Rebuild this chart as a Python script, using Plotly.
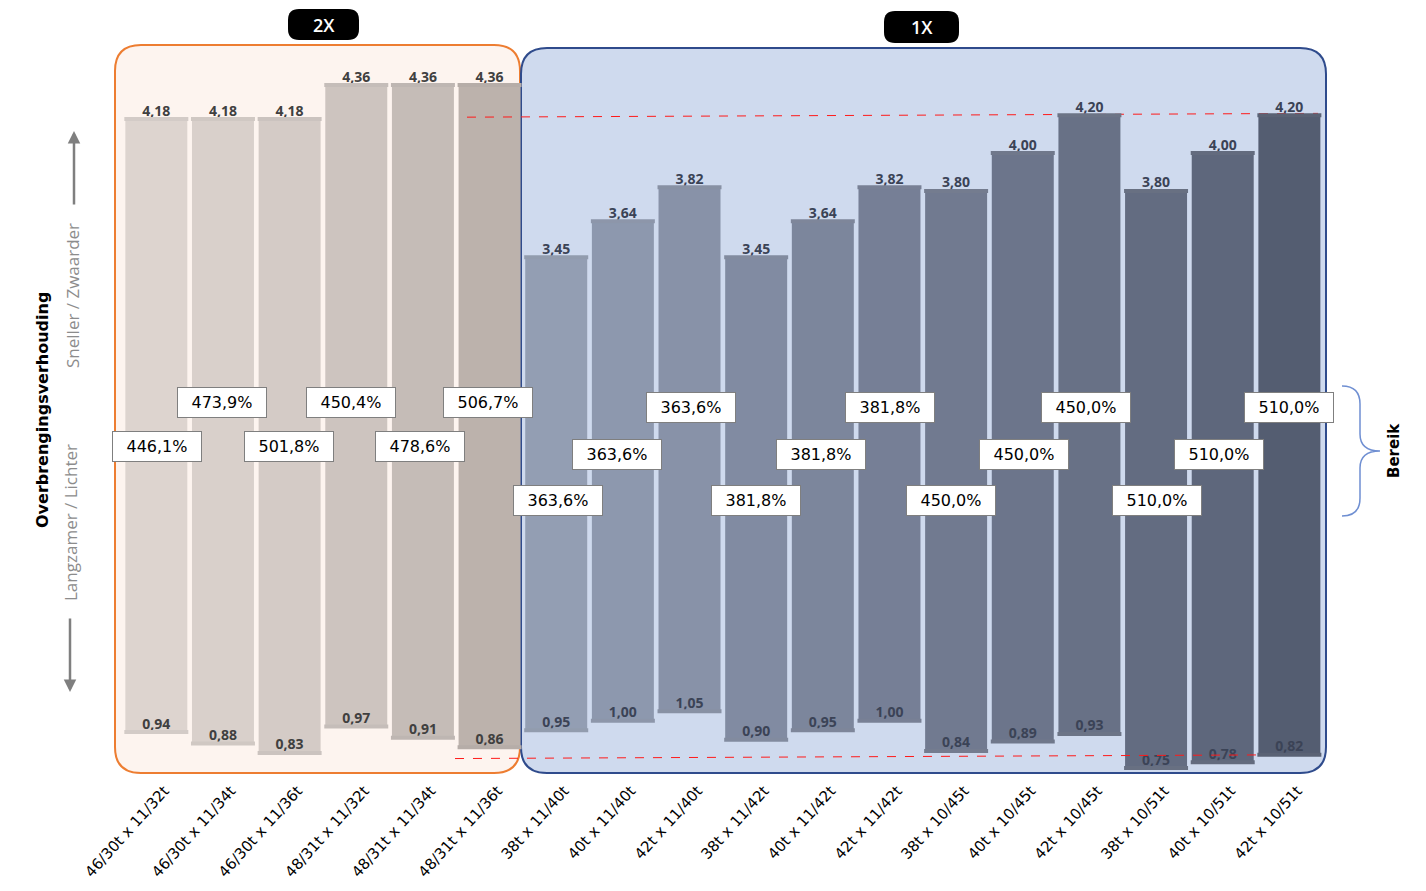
import plotly.graph_objects as go

# ---------------- data ----------------
categories = ["46/30t x 11/32t", "46/30t x 11/34t", "46/30t x 11/36t",
              "48/31t x 11/32t", "48/31t x 11/34t", "48/31t x 11/36t",
              "38t x 11/40t", "40t x 11/40t", "42t x 11/40t",
              "38t x 11/42t", "40t x 11/42t", "42t x 11/42t",
              "38t x 10/45t", "40t x 10/45t", "42t x 10/45t",
              "38t x 10/51t", "40t x 10/51t", "42t x 10/51t"]
high = [4.18, 4.18, 4.18, 4.36, 4.36, 4.36,
        3.45, 3.64, 3.82, 3.45, 3.64, 3.82,
        3.80, 4.00, 4.20, 3.80, 4.00, 4.20]
low = [0.94, 0.88, 0.83, 0.97, 0.91, 0.86,
       0.95, 1.00, 1.05, 0.90, 0.95, 1.00,
       0.84, 0.89, 0.93, 0.75, 0.78, 0.82]
range_pct = ["446,1%", "473,9%", "501,8%", "450,4%", "478,6%", "506,7%",
             "363,6%", "363,6%", "363,6%", "381,8%", "381,8%", "381,8%",
             "450,0%", "450,0%", "450,0%", "510,0%", "510,0%", "510,0%"]
group_2x = 6  # first six combinations are 2X
top_ref = [4.19, 4.21]     # red dashed reference (max of 1X)
bottom_ref = [0.80, 0.82]  # red dashed reference (min of 1X)

# ---------------- styles ----------------
bar_colors = ["#ddd4cf", "#d9d0cb", "#d4cbc6", "#cdc4bf", "#c5bcb7", "#bcb2ac",
              "#939eb3", "#8d98ae", "#8892a8", "#818ba2", "#7c869c", "#767f96",
              "#717a90", "#6c758b", "#687186", "#636c81", "#5e677c", "#545d71"]


def blend(c, other, t):
    a = [int(c[i:i + 2], 16) for i in (1, 3, 5)]
    b = [int(other[i:i + 2], 16) for i in (1, 3, 5)]
    return "#" + "".join(f"{round(a[k] * (1 - t) + b[k] * t):02x}" for k in range(3))


# page geometry (browser body has an 8px margin)
OFF = 8
W, H = 1426 - OFF, 891 - OFF
PL, PR, PT, PB = 113, 1382, 8, 778          # plot area in page pixels
ML, MR, MT, MB = PL - OFF, (W + OFF) - PR, PT - OFF, (H + OFF) - PB
PW, PH = PR - PL, PB - PT
SX, SY = 66.65, 189.2
XR = [-0.65, -0.65 + PW / SX]
YR = [4.36 - (PB - 85) / SY, 4.36 + (85 - PT) / SY]


def X(px):
    return XR[0] + (px - PL) / SX


def Y(py):
    return YR[1] - (py - PT) / SY


def XP(px):
    return (px - PL) / PW


def YP(py):
    return 1 - (py - PT) / PH


def rrect(px0, px1, py0, py1, r):
    x0, x1, y0, y1 = X(px0), X(px1), Y(py1), Y(py0)
    rx, ry = r / SX, r / SY
    return (f"M{x0+rx},{y1} L{x1-rx},{y1} Q{x1},{y1} {x1},{y1-ry} "
            f"L{x1},{y0+ry} Q{x1},{y0} {x1-rx},{y0} L{x0+rx},{y0} "
            f"Q{x0},{y0} {x0},{y0+ry} L{x0},{y1-ry} Q{x0},{y1} {x0+rx},{y1} Z")


idx = list(range(len(categories)))
fig = go.Figure()

fig.add_trace(go.Bar(
    x=idx, y=[h - l for h, l in zip(high, low)], base=low, width=0.93,
    marker=dict(color=bar_colors, line=dict(width=0)), hoverinfo="skip"))

lab_col = ["#404040" if i < group_2x else "#3b4356" for i in idx]
fig.add_trace(go.Scatter(
    x=idx, y=high, mode="text", text=[f"{v:.2f}".replace(".", ",") for v in high],
    textposition="top center",
    textfont=dict(family="Open Sans", size=14, color=lab_col, weight=700),
    hoverinfo="skip"))
fig.add_trace(go.Scatter(
    x=idx, y=low, mode="text", text=[f"{v:.2f}".replace(".", ",") for v in low],
    textposition="top center",
    textfont=dict(family="Open Sans", size=14, color=lab_col, weight=700),
    hoverinfo="skip"))

# reference dashed lines
fig.add_trace(go.Scatter(x=[X(467), X(1318)], y=top_ref, mode="lines",
                         line=dict(color="#ff1a1a", width=1, dash="dash"), hoverinfo="skip"))
fig.add_trace(go.Scatter(x=[X(455), X(1295)], y=bottom_ref, mode="lines",
                         line=dict(color="#ff1a1a", width=1, dash="dash"), hoverinfo="skip"))

shapes = []
# group boxes
shapes.append(dict(type="path", path=rrect(115, 520, 45, 773, 26), xref="x", yref="y",
                   fillcolor="#fdf4ef", line=dict(color="#ed7d31", width=2), layer="below"))
shapes.append(dict(type="path", path=rrect(521, 1326, 48, 773, 26), xref="x", yref="y",
                   fillcolor="#cfdaee", line=dict(color="#2f4b8c", width=2), layer="below"))
# header pills
shapes.append(dict(type="path", path=rrect(288, 359, 9, 40, 11), xref="x", yref="y",
                   fillcolor="#000000", line=dict(width=0)))
shapes.append(dict(type="path", path=rrect(884, 959, 11, 43, 11), xref="x", yref="y",
                   fillcolor="#000000", line=dict(width=0)))
# bar caps
for i in idx:
    cc = blend(bar_colors[i], "#8a8a8a", 0.12)
    for v in (high[i], low[i]):
        shapes.append(dict(type="line", xref="x", yref="y", x0=i - 0.48, x1=i + 0.48,
                           y0=v, y1=v, line=dict(color=cc, width=4), layer="above"))
# brace
bp = [(1342, 386), (1360, 386), (1360, 404), (1360, 434), (1360, 451), (1380, 451),
      (1360, 451), (1360, 468), (1360, 498), (1360, 516), (1342, 516)]
P = [(X(a), Y(b)) for a, b in bp]
brace = (f"M{P[0][0]},{P[0][1]} Q{P[1][0]},{P[1][1]} {P[2][0]},{P[2][1]} "
         f"L{P[3][0]},{P[3][1]} Q{P[4][0]},{P[4][1]} {P[5][0]},{P[5][1]} "
         f"Q{P[6][0]},{P[6][1]} {P[7][0]},{P[7][1]} L{P[8][0]},{P[8][1]} "
         f"Q{P[9][0]},{P[9][1]} {P[10][0]},{P[10][1]}")
shapes.append(dict(type="path", path=brace, xref="x", yref="y",
                   line=dict(color="#6f8fd2", width=1.5)))

ann = []
# percentage boxes
levels_2x = [446, 402]
levels_1x = [500, 454, 407]
xshift = [1, -1, -1, -5, -3, -2, 2, -6, 1, 0, -2, 1, -5, 1, -3, 1, -4, 0]
for i in idx:
    lvl = levels_2x[i % 2] if i < group_2x else levels_1x[(i - group_2x) % 3]
    ann.append(dict(x=i, y=Y(lvl), xref="x", yref="y", text=range_pct[i], showarrow=False,
                    xshift=xshift[i], xanchor="center", yanchor="middle",
                    font=dict(family="DejaVu Sans", size=16, color="#000000"),
                    bgcolor="#ffffff", bordercolor="#7f7f7f", borderwidth=1, borderpad=2,
                    width=84, height=25))
# headers
ann.append(dict(x=X(323.5), y=Y(24.5), xref="x", yref="y", text="2X", showarrow=False,
                xanchor="center", yanchor="middle",
                font=dict(family="Open Sans", size=18, color="#ffffff", weight=600)))
ann.append(dict(x=X(921.5), y=Y(27), xref="x", yref="y", text="1X", showarrow=False,
                xanchor="center", yanchor="middle",
                font=dict(family="Open Sans", size=18, color="#ffffff", weight=600)))
# left axis texts
ann.append(dict(x=XP(43), y=YP(410), xref="paper", yref="paper", text="<b>Overbrengingsverhouding</b>",
                textangle=-90, showarrow=False, xanchor="center", yanchor="middle",
                font=dict(family="DejaVu Sans", size=16, color="#000000")))
ann.append(dict(x=XP(72), y=YP(296), xref="paper", yref="paper", text="Sneller / Zwaarder",
                textangle=-90, showarrow=False, xanchor="center", yanchor="middle",
                font=dict(family="Open Sans", size=17, color="#8c8c8c")))
ann.append(dict(x=XP(70), y=YP(523), xref="paper", yref="paper", text="Langzamer / Lichter",
                textangle=-90, showarrow=False, xanchor="center", yanchor="middle",
                font=dict(family="Open Sans", size=17, color="#8c8c8c")))
# arrows
ann.append(dict(x=XP(74), y=YP(131), xref="paper", yref="paper", text="", showarrow=True,
                ax=0, ay=75, arrowhead=2, arrowsize=1, arrowwidth=2.5, arrowcolor="#7f7f7f"))
ann.append(dict(x=XP(70), y=YP(692), xref="paper", yref="paper", text="", showarrow=True,
                ax=0, ay=-75, arrowhead=2, arrowsize=1, arrowwidth=2.5, arrowcolor="#7f7f7f"))
# Bereik
ann.append(dict(x=XP(1394), y=YP(451), xref="paper", yref="paper", text="<b>Bereik</b>",
                textangle=-90, showarrow=False, xanchor="center", yanchor="middle",
                font=dict(family="DejaVu Sans", size=15, color="#000000")))

fig.update_layout(
    width=W, height=H, autosize=False,
    margin=dict(l=ML, r=MR, t=MT, b=MB, pad=0),
    paper_bgcolor="#ffffff", plot_bgcolor="#ffffff",
    showlegend=False, shapes=shapes, annotations=ann,
    xaxis=dict(range=XR, tickvals=idx, ticktext=categories, tickangle=-48,
               showgrid=False, zeroline=False, showline=False, ticks="",
               ticklabelshift=8,
               tickfont=dict(family="DejaVu Sans", size=15, color="#000000")),
    yaxis=dict(range=YR, visible=False, showgrid=False, zeroline=False),
)

fig.write_html("out.html")
